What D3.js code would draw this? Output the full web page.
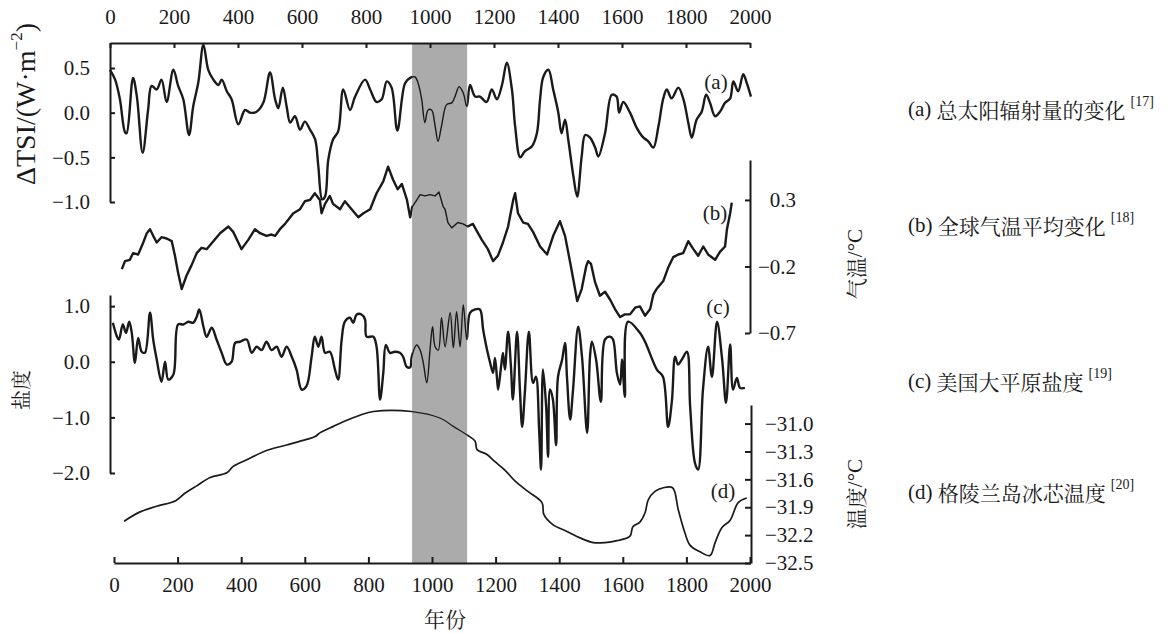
<!DOCTYPE html>
<html>
<head>
<meta charset="utf-8">
<script src="https://cdn.jsdelivr.net/npm/d3@7"></script>
<style>
  html, body { margin: 0; padding: 0; background: #fff; }
  svg { display: block; }
</style>
</head>
<body>
<svg id="chart" width="1176" height="634"></svg>
<script>
// ---------- DATA ----------
const xTicks = [0, 200, 400, 600, 800, 1000, 1200, 1400, 1600, 1800, 2000];
const tsiTicks = [0.5, 0.0, -0.5, -1.0];
const tempTicks = [0.3, -0.2, -0.7];
const salTicks = [1.0, 0.0, -1.0, -2.0];
const iceTicks = [-31.0, -31.3, -31.6, -31.9, -32.2, -32.5];
const warmPeriod = [944, 1116];

// (a) total solar irradiance change
const tsiYears = [0,16,31,47,52,72,84,102,119,130,146,161,177,198,213,229,247,260,276,292,307,323,339,349,365,380,401,422,438,458,479,500,516,526,540,552,563,578,594,609,625,641,651,663,672,682,697,713,729,750,766,797,813,833,849,865,880,898,922,938,953,963,974,984,994,1005,1016,1025,1036,1052,1068,1078,1091,1104,1115,1125,1141,1156,1177,1193,1209,1225,1240,1256,1266,1282,1297,1318,1334,1344,1354,1370,1385,1401,1411,1422,1432,1448,1460,1474,1485,1500,1516,1526,1547,1568,1583,1591,1604,1625,1646,1667,1682,1698,1714,1729,1740,1755,1776,1792,1807,1818,1833,1849,1863,1875,1891,1906,1922,1938,1948,1963,1979,1990,2003];
const tsiValues = [0.48,0.37,0.15,-0.22,-0.23,0.39,0.18,-0.45,0.03,0.30,0.26,0.37,0.12,0.48,0.30,0.15,-0.25,0.07,0.34,0.76,0.48,0.37,0.31,0.37,0.24,0.15,-0.13,0.03,0.00,0.01,0.11,0.45,0.15,0.05,0.28,0.07,-0.11,-0.04,-0.19,-0.10,-0.19,-0.30,-0.60,-0.97,-0.94,-0.53,-0.30,-0.21,0.26,0.03,0.18,0.37,0.26,0.12,0.15,0.35,0.28,-0.20,0.33,0.39,0.40,0.33,0.15,-0.11,0.03,0.03,-0.15,-0.32,-0.15,0.09,0.11,0.18,0.29,0.22,0.07,0.31,0.18,0.18,0.12,0.26,0.15,0.31,0.56,0.26,-0.15,-0.50,-0.43,-0.38,-0.23,0.15,0.40,0.48,0.26,0.00,-0.23,-0.08,-0.30,-0.71,-0.94,-0.49,-0.25,-0.28,-0.39,-0.49,-0.23,0.20,0.18,0.00,0.12,0.00,-0.17,-0.28,-0.32,-0.39,-0.15,0.16,0.26,0.16,0.28,0.15,-0.11,-0.28,-0.08,0.01,0.20,0.11,-0.04,0.01,0.11,0.16,0.35,0.24,0.43,0.33,0.18];

// (b) global mean temperature change
const tempYears = [37,47,62,72,88,104,115,125,135,146,161,177,193,203,213,224,239,255,271,286,302,323,344,370,385,401,411,432,453,469,489,505,516,531,547,563,573,594,609,625,640,656,661,672,687,697,719,734,755,776,792,813,833,854,869,885,899,912,928,938,945,959,969,984,1000,1016,1028,1041,1047,1056,1068,1087,1103,1118,1134,1150,1162,1181,1197,1212,1228,1244,1260,1266,1275,1291,1306,1322,1344,1366,1385,1406,1422,1438,1448,1460,1474,1488,1494,1503,1516,1531,1547,1563,1578,1594,1609,1625,1641,1656,1672,1688,1698,1708,1729,1744,1760,1776,1791,1807,1823,1838,1854,1869,1891,1906,1922,1928,1938,1943];
const tempValues = [-0.22,-0.16,-0.15,-0.10,-0.11,-0.02,0.05,0.08,0.03,-0.02,0.02,0.01,-0.01,-0.12,-0.25,-0.37,-0.27,-0.19,-0.10,-0.06,-0.07,-0.01,0.05,0.10,0.06,-0.02,-0.07,0.00,0.08,0.05,0.03,0.04,0.03,0.08,0.12,0.17,0.20,0.23,0.29,0.30,0.35,0.30,0.20,0.27,0.33,0.27,0.23,0.29,0.23,0.17,0.20,0.23,0.35,0.44,0.55,0.45,0.38,0.42,0.30,0.17,0.25,0.30,0.34,0.33,0.34,0.33,0.36,0.25,0.23,0.13,0.09,0.13,0.12,0.10,0.12,0.05,0.00,-0.07,-0.16,-0.12,-0.02,0.10,0.30,0.35,0.20,0.13,0.12,0.06,-0.05,-0.11,0.03,0.14,0.03,-0.17,-0.30,-0.46,-0.37,-0.20,-0.16,-0.18,-0.32,-0.42,-0.39,-0.45,-0.52,-0.58,-0.56,-0.56,-0.51,-0.50,-0.57,-0.52,-0.41,-0.37,-0.31,-0.21,-0.13,-0.11,-0.10,-0.01,-0.07,-0.12,-0.05,-0.11,-0.15,-0.09,-0.05,0.08,0.20,0.28];

// (c) Great Plains salinity
const salYears = [9,22,28,40,50,60,68,78,88,99,109,125,135,146,161,172,182,198,213,229,245,260,271,279,292,302,318,333,349,365,380,391,406,427,443,458,474,489,505,521,536,552,568,583,599,614,630,640,651,661,672,687,703,713,724,734,750,760,771,786,797,802,823,833,844,854,862,875,890,906,916,927,938,943,958,969,979,990,1000,1008,1016,1026,1036,1047,1063,1073,1083,1094,1104,1115,1125,1141,1156,1166,1178,1188,1197,1203,1209,1213,1222,1228,1234,1244,1253,1259,1272,1281,1288,1297,1309,1322,1331,1341,1347,1353,1363,1369,1375,1384,1394,1400,1413,1422,1428,1438,1447,1463,1475,1491,1500,1506,1519,1534,1547,1563,1572,1584,1594,1600,1609,1619,1656,1672,1709,1728,1744,1756,1766,1775,1788,1803,1813,1828,1838,1853,1869,1881,1897,1913,1925,1938,1947,1959,1969,1984];
const salValues = [0.70,0.45,0.40,0.67,0.52,0.72,0.52,-0.02,0.43,0.18,0.16,0.88,0.40,0.04,-0.36,0.00,-0.32,-0.23,0.67,0.67,0.72,0.70,0.81,0.94,0.63,0.45,0.61,0.40,0.16,-0.05,0.00,0.34,0.36,0.40,0.16,0.27,0.21,0.36,0.21,0.27,0.09,0.27,0.09,-0.14,-0.50,-0.44,0.09,0.45,0.27,0.45,0.16,0.18,-0.14,-0.32,0.40,0.72,0.79,0.70,0.85,0.85,0.76,0.45,0.45,0.27,-0.68,-0.20,0.30,0.16,0.18,0.16,0.09,-0.09,-0.10,0.09,0.30,0.21,-0.02,-0.38,0.21,0.63,0.27,0.21,0.79,0.27,0.88,0.25,0.90,0.27,1.02,0.40,0.88,0.94,0.94,0.58,0.22,-0.02,-0.20,0.07,-0.27,-0.50,-0.09,0.16,-0.14,0.54,-0.09,-0.68,0.54,-0.50,-1.17,-0.50,0.54,-0.38,-0.27,-1.22,-1.94,-0.14,-0.81,-1.71,-0.50,-0.68,-1.50,-0.27,0.04,0.34,-0.27,-1.04,-0.50,0.63,0.09,-1.28,0.09,0.36,0.04,-0.72,0.40,0.45,0.40,-0.20,-0.41,0.04,-0.63,0.72,0.52,0.36,-0.14,-0.27,-1.17,-0.70,0.09,-0.05,0.05,0.18,-0.81,-1.82,-1.94,-0.50,0.27,-0.27,0.72,0.04,-0.74,0.31,-0.50,-0.29,-0.47,-0.47];

// (d) Greenland ice-core temperature
const iceYears = [44,94,146,205,234,271,313,365,385,427,489,552,614,641,656,698,729,781,823,943,1031,1073,1115,1141,1147,1177,1203,1234,1266,1306,1350,1356,1385,1428,1469,1510,1547,1584,1625,1634,1656,1672,1682,1703,1729,1758,1776,1797,1813,1844,1875,1891,1912,1938,1963,1990];
const iceValues = [-32.05,-31.95,-31.89,-31.83,-31.75,-31.67,-31.58,-31.53,-31.46,-31.39,-31.29,-31.23,-31.17,-31.14,-31.10,-31.03,-30.98,-30.91,-30.87,-30.87,-30.94,-31.03,-31.12,-31.19,-31.28,-31.33,-31.41,-31.50,-31.62,-31.73,-31.85,-31.98,-32.09,-32.16,-32.23,-32.28,-32.28,-32.26,-32.21,-32.11,-32.06,-31.96,-31.82,-31.73,-31.69,-31.69,-31.93,-32.18,-32.31,-32.38,-32.42,-32.28,-32.12,-32.04,-31.85,-31.80];

const legendTags = ["(a)", "(b)", "(c)", "(d)"];
const legendTexts = ["总太阳辐射量的变化", "全球气温平均变化", "美国大平原盐度", "格陵兰岛冰芯温度"];
const legendRefs = ["[17]", "[18]", "[19]", "[20]"];
const panelTags = ["(a)", "(b)", "(c)", "(d)"];

// ---------- DRAWING ----------
const svg = d3.select("#chart");
const INK = "#1a1a1a";
const LAT = '"Liberation Serif"';
const CJK = '"Noto Serif CJK SC"';

const x = d3.scaleLinear().domain([0, 2000]).range([110, 750]);
const xb = d3.scaleLinear().domain([0, 2000]).range([114, 750]);
const yA = d3.scaleLinear().domain([-1.0, 0.78]).range([202, 43]);
const yB = d3.scaleLinear().domain([-0.7, 0.6]).range([333, 160]);
const yC = d3.scaleLinear().domain([-2.0, 1.2]).range([473, 295]);
const yD = d3.scaleLinear().domain([-32.5, -30.8]).range([563, 405]);

svg.append("rect").attr("width", 1176).attr("height", 634).attr("fill", "#fff");

// warm period band
const bx0 = x(warmPeriod[0]), bx1 = x(warmPeriod[1]);
svg.append("rect")
  .attr("x", bx0).attr("y", 43)
  .attr("width", bx1 - bx0).attr("height", 563 - 43)
  .attr("fill", "#ababab");

// clip paths: outside / inside the band
const defs = svg.append("defs");
const cOut = defs.append("clipPath").attr("id", "outside");
cOut.append("rect").attr("x", 0).attr("y", 0).attr("width", bx0).attr("height", 634);
cOut.append("rect").attr("x", bx1).attr("y", 0).attr("width", 1176 - bx1).attr("height", 634);
defs.append("clipPath").attr("id", "inside")
  .append("rect").attr("x", bx0).attr("y", 0).attr("width", bx1 - bx0).attr("height", 634);

function drawSeries(years, values, yScale, wOut, wIn, curve) {
  const pts = years.map((yr, i) => [yr, values[i]]);
  const line = d3.line().x(d => x(d[0])).y(d => yScale(d[1])).curve(curve);
  svg.append("path").datum(pts).attr("d", line)
    .attr("fill", "none").attr("stroke", INK).attr("stroke-width", wOut)
    .attr("stroke-linejoin", "round").attr("clip-path", "url(#outside)");
  svg.append("path").datum(pts).attr("d", line)
    .attr("fill", "none").attr("stroke", INK).attr("stroke-width", wIn)
    .attr("stroke-linejoin", "round").attr("clip-path", "url(#inside)");
}
drawSeries(tsiYears, tsiValues, yA, 2.4, 1.4, d3.curveCatmullRom.alpha(0.5));
drawSeries(tempYears, tempValues, yB, 2.4, 1.4, d3.curveLinear);
drawSeries(salYears, salValues, yC, 2.4, 1.4, d3.curveCatmullRom.alpha(0.5));
drawSeries(iceYears, iceValues, yD, 1.7, 1.2, d3.curveCatmullRom.alpha(0.5));

// axes
function styleAxis(g) {
  g.attr("font-family", null).attr("font-size", null);
  g.selectAll("path.domain").attr("stroke", INK).attr("stroke-width", 2);
  g.selectAll(".tick line").attr("stroke", INK).attr("stroke-width", 2);
  g.selectAll(".tick text").attr("fill", INK)
    .style("font-family", LAT).style("font-size", "21px");
}
const fmt1 = d3.format(".1f");

svg.append("g").attr("transform", "translate(0,43)")
  .call(d3.axisTop(x).tickValues(xTicks).tickSize(-5).tickSizeOuter(0).tickPadding(19).tickFormat(d3.format("d")))
  .call(styleAxis);

svg.append("g").attr("transform", "translate(0,563)")
  .call(d3.axisBottom(xb).tickValues(xTicks).tickSize(-6).tickSizeOuter(0).tickPadding(14).tickFormat(d3.format("d")))
  .call(styleAxis);

svg.append("g").attr("transform", "translate(110,0)")
  .call(d3.axisLeft(yA).tickValues(tsiTicks).tickSize(-5).tickSizeOuter(0).tickPadding(20).tickFormat(fmt1))
  .call(styleAxis);

svg.append("g").attr("transform", "translate(110,0)")
  .call(d3.axisLeft(yC).tickValues(salTicks).tickSize(-5).tickSizeOuter(0).tickPadding(20).tickFormat(fmt1))
  .call(styleAxis);

const gB = svg.append("g").attr("transform", "translate(750,0)")
  .call(d3.axisRight(yB).tickValues(tempTicks).tickSize(-5).tickSizeOuter(0).tickPadding(46).tickFormat(fmt1))
  .call(styleAxis);
gB.selectAll(".tick text").attr("text-anchor", "end");

svg.append("g").attr("transform", "translate(751,0)")
  .call(d3.axisRight(yD).tickValues(iceTicks).tickSize(-6).tickSizeOuter(0).tickPadding(14).tickFormat(fmt1))
  .call(styleAxis);

// axis titles
const tsiLabel = svg.append("text")
  .attr("transform", "translate(25,104) rotate(-90)")
  .attr("text-anchor", "middle").attr("dominant-baseline", "central")
  .style("font-family", LAT).style("font-size", "28px").attr("fill", INK);
tsiLabel.append("tspan").text("ΔTSI/(W·m");
tsiLabel.append("tspan").style("font-size", "17px").attr("dy", -9).text("−2");
tsiLabel.append("tspan").attr("dy", 9).text(")");

function rotLabel(cjk, latin, cx, cy, size) {
  const t = svg.append("text")
    .attr("transform", `translate(${cx},${cy}) rotate(-90)`)
    .attr("text-anchor", "middle").attr("dominant-baseline", "central")
    .style("font-size", size + "px").attr("fill", INK);
  t.append("tspan").style("font-family", CJK).text(cjk);
  if (latin) t.append("tspan").style("font-family", LAT).text(latin);
}
rotLabel("气温", "/°C", 855, 264, 21);
rotLabel("温度", "/°C", 855, 494, 21);
rotLabel("盐度", "", 20, 390, 20);

svg.append("text").attr("x", 445).attr("y", 618)
  .attr("text-anchor", "middle").attr("dominant-baseline", "central")
  .style("font-family", CJK).style("font-size", "21px").attr("fill", INK)
  .text("年份");

// panel tags
const tagPos = [[716, 82], [715, 213], [718, 307], [723, 491]];
panelTags.forEach((t, i) => {
  svg.append("text").attr("x", tagPos[i][0]).attr("y", tagPos[i][1])
    .attr("text-anchor", "middle").attr("dominant-baseline", "central")
    .style("font-family", LAT).style("font-size", "21px").attr("fill", INK).text(t);
});

// right-hand legend texts
const legY = [109, 225, 381, 492];
legendTexts.forEach((t, i) => {
  const tx = svg.append("text").attr("x", 908).attr("y", legY[i])
    .attr("dominant-baseline", "central")
    .style("font-size", "21px").attr("fill", INK);
  tx.append("tspan").style("font-family", LAT).text(legendTags[i] + " ");
  tx.append("tspan").style("font-family", CJK).text(t);
  tx.append("tspan").style("font-family", LAT).attr("dx", 5).attr("dy", -8)
    .style("font-size", "14px").text(legendRefs[i]);
});
</script>
</body>
</html>
